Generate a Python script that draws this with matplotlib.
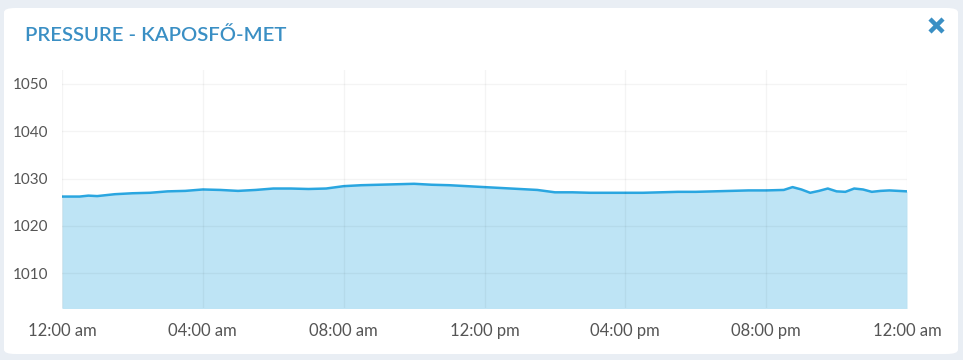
import matplotlib
matplotlib.use("Agg")
import matplotlib.pyplot as plt
from matplotlib.patches import FancyBboxPatch
from matplotlib.lines import Line2D

hours = [0, 0.5, 0.75, 1, 1.5, 2, 2.5, 3, 3.5, 4, 4.5, 5, 5.5, 6, 6.5, 7, 7.5, 8, 8.5, 9, 9.5,
         10, 10.5, 11, 11.5, 12, 12.5, 13, 13.5, 14, 14.5, 15, 15.5, 16, 16.5, 17, 17.5,
         18, 18.5, 19, 19.5, 20, 20.5, 20.75, 21, 21.25, 21.5, 21.75, 22, 22.25, 22.5,
         22.75, 23, 23.25, 23.5, 24]
pressure = [1026.2, 1026.2, 1026.4, 1026.3, 1026.7, 1026.9, 1027.0, 1027.3, 1027.4, 1027.7, 1027.6,
            1027.4, 1027.6, 1027.9, 1027.9, 1027.8, 1027.9, 1028.4, 1028.6, 1028.7, 1028.8,
            1028.9, 1028.7, 1028.6, 1028.4, 1028.2, 1028.0, 1027.8, 1027.6, 1027.1, 1027.1,
            1027.0, 1027.0, 1027.0, 1027.0, 1027.1, 1027.2, 1027.2, 1027.3, 1027.4, 1027.5,
            1027.5, 1027.6, 1028.2, 1027.7, 1027.0, 1027.4, 1027.9, 1027.3, 1027.2, 1027.9,
            1027.7, 1027.2, 1027.4, 1027.5, 1027.3]
x_ticks = [0, 4, 8, 12, 16, 20, 24]
x_labels = ["12:00 am", "04:00 am", "08:00 am", "12:00 pm", "04:00 pm", "08:00 pm", "12:00 am"]
y_ticks = [1010, 1020, 1030, 1040, 1050]
title = "PRESSURE - KAPOSFŐ-MET"

plt.rcParams['font.family'] = ['Lato', 'DejaVu Sans']
W, H = 963, 360
fig = plt.figure(figsize=(W / 100, H / 100), dpi=100)
fig.patch.set_facecolor("#e9eef4")

card = FancyBboxPatch((4 / W, 6 / H), 954 / W, 346 / H,
                      boxstyle="round,pad=0,rounding_size=0.012",
                      transform=fig.transFigure, facecolor="white", edgecolor="none",
                      zorder=-10)
fig.patches.append(card)

fig.text(25 / W, 1 - 35 / H, title, color="#3a8fc4", fontsize=14.6, va="center", ha="left",
         fontweight="semibold")
for (x0, y0, x1, y1) in [(930, 19, 943, 32), (930, 32, 943, 19)]:
    fig.lines.append(Line2D([x0 / W, x1 / W], [1 - y0 / H, 1 - y1 / H], transform=fig.transFigure,
                            color="#3a8fc4", linewidth=3.2, solid_capstyle="butt"))

ax = fig.add_axes([62 / W, 1 - 308 / H, 845 / W, 238 / H])
ax.set_facecolor("white")
ax.fill_between(hours, pressure, 1000, color="#bee4f5", linewidth=0)
ax.plot(hours, pressure, color="#2aa6e0", linewidth=1.8, solid_joinstyle="round")
ax.set_xlim(0, 24)
ax.set_ylim(1002.65, 1052.95)
ax.set_xticks(x_ticks)
ax.set_xticklabels(x_labels)
ax.set_yticks(y_ticks)
ax.grid(True, color="#000000", alpha=0.045, linewidth=1)
ax.set_axisbelow(False)
for s in ax.spines.values():
    s.set_visible(False)
ax.tick_params(length=0, labelcolor="#555555")
ax.tick_params(axis="x", pad=11, labelsize=12)
ax.tick_params(axis="y", pad=10, labelsize=11)
for lbl in ax.get_yticklabels():
    lbl.set_ha("right")

fig.savefig("out.png", dpi=100, facecolor=fig.get_facecolor())
